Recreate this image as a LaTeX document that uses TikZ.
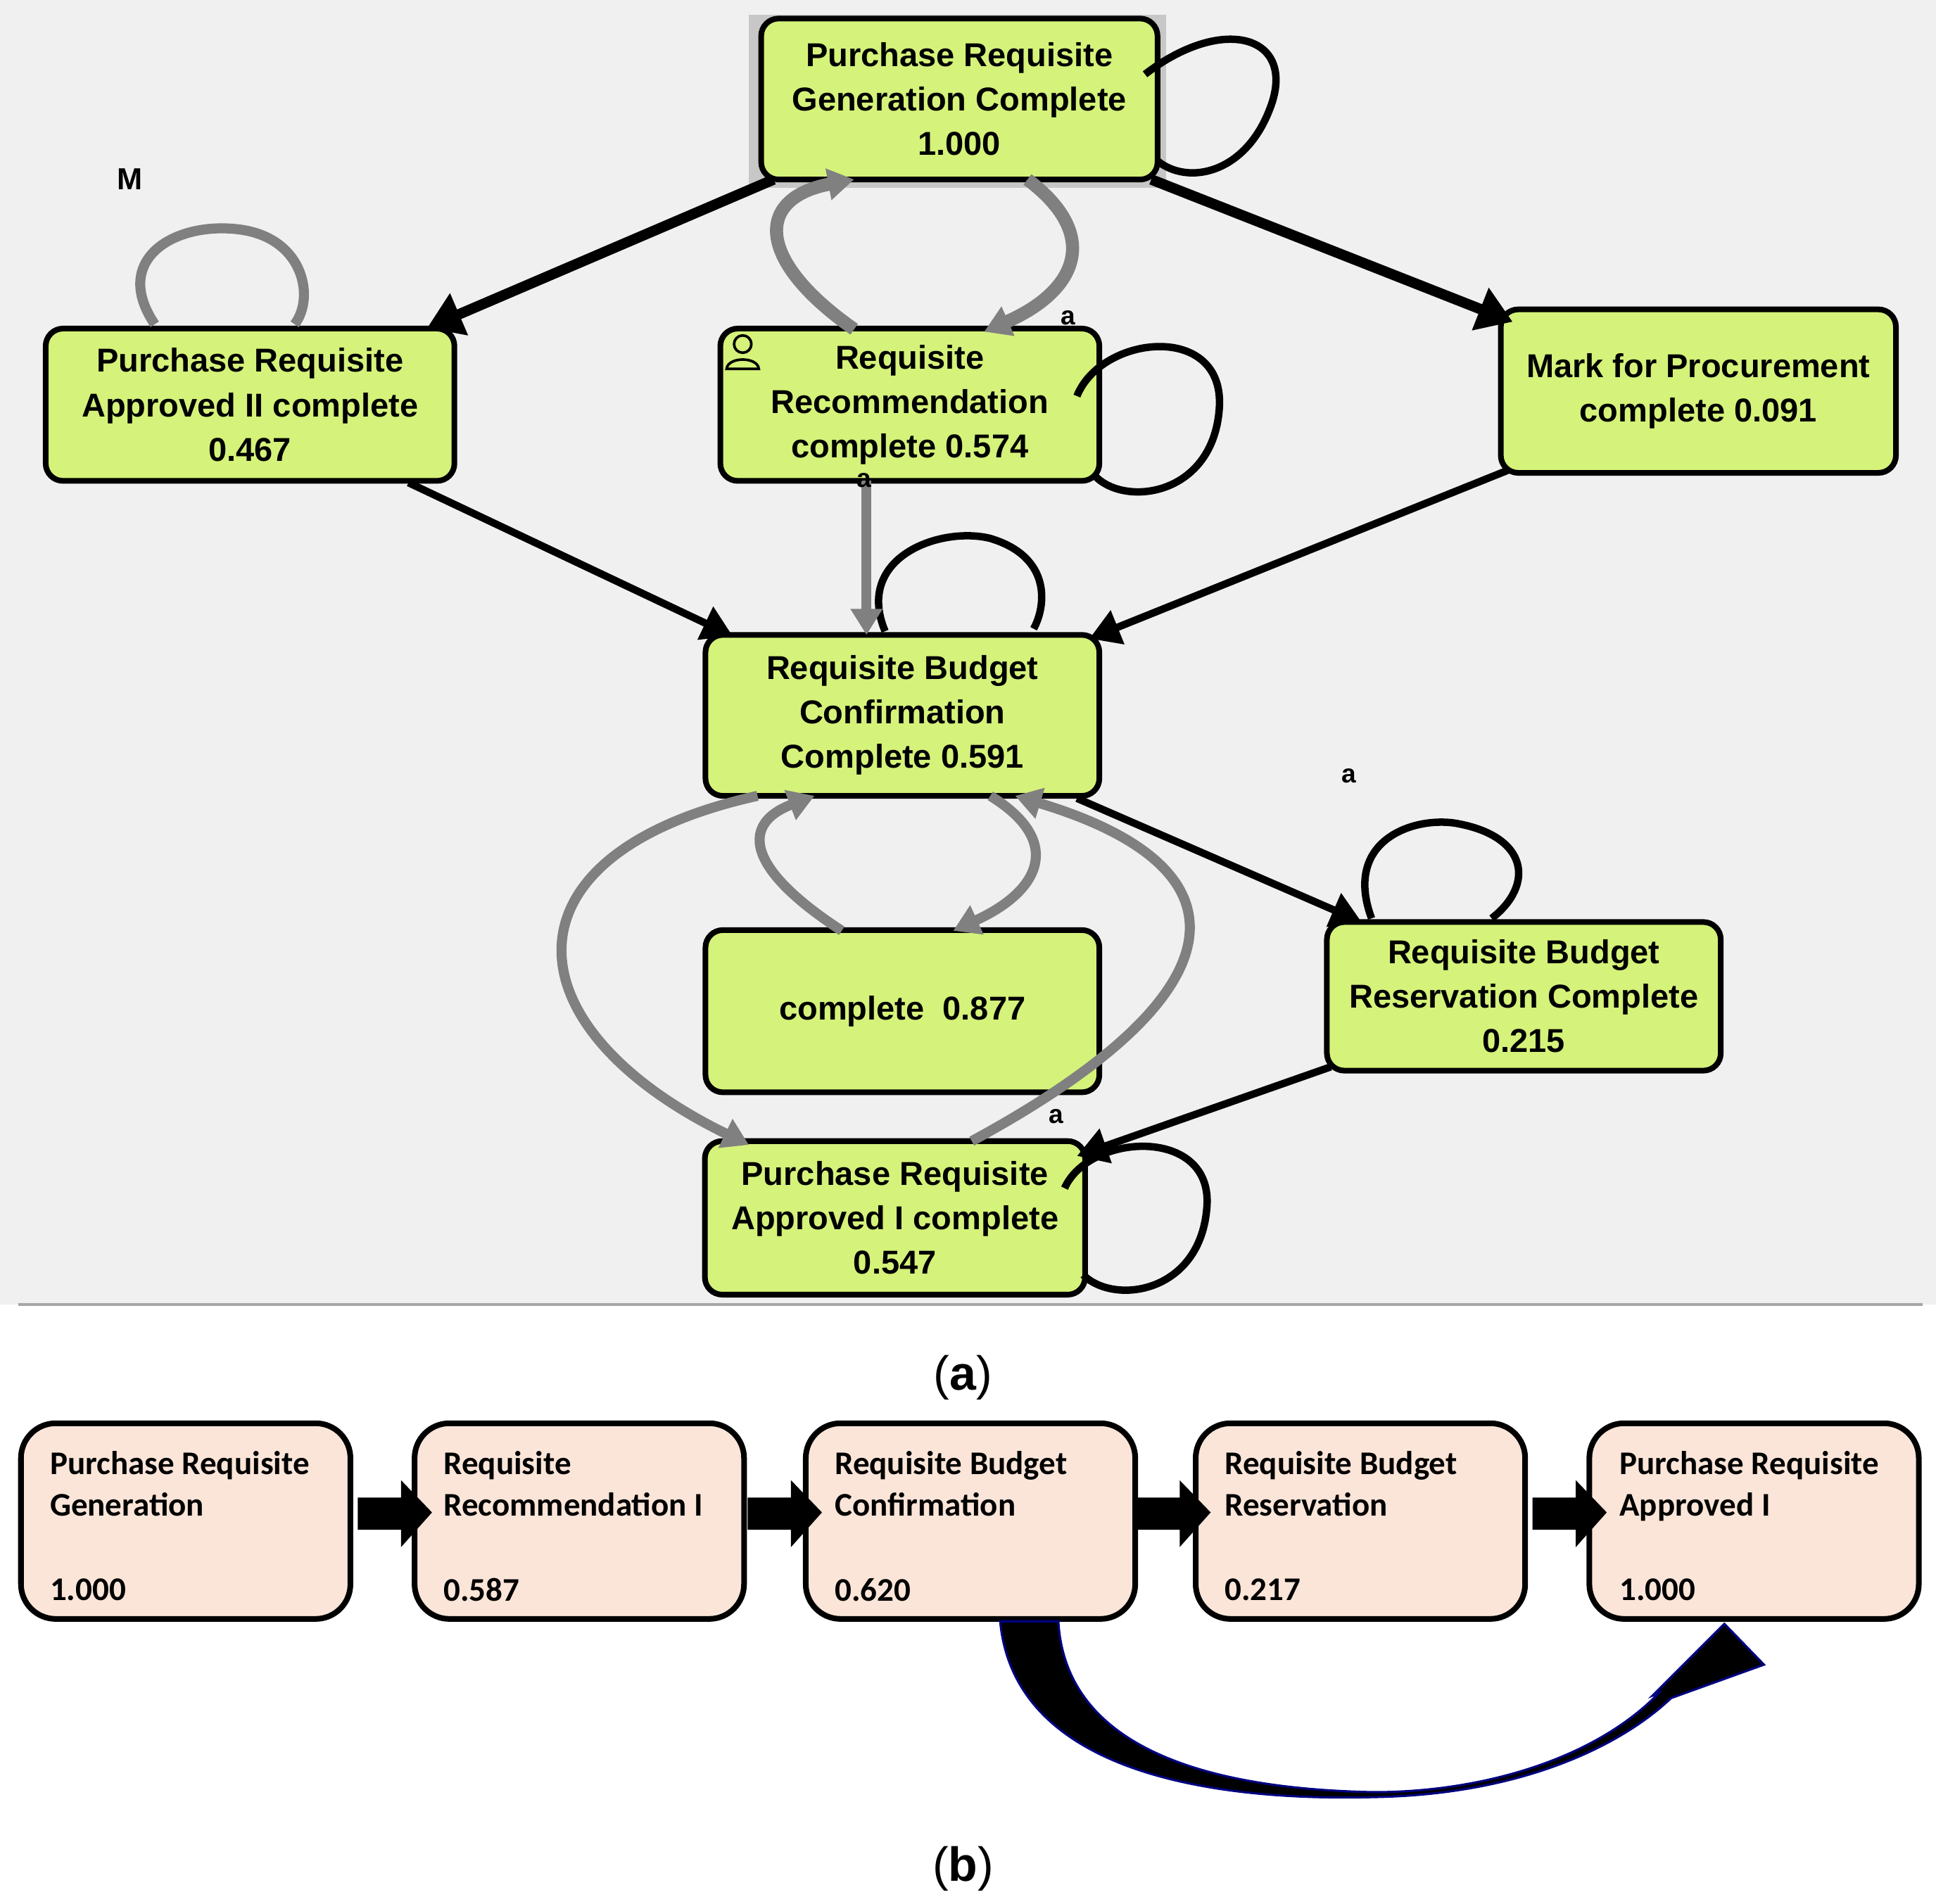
\documentclass[tikz,border=0pt]{standalone}
\usepackage{fontspec}
\setmainfont{Liberation Sans}
\newfontfamily\carl{Carlito}
\usetikzlibrary{arrows.meta}
\definecolor{gbox}{HTML}{D5F27A}
\definecolor{pbox}{HTML}{FAE5D8}
\definecolor{gline}{HTML}{808080}
\begin{document}
\begin{tikzpicture}[x=0.01cm,y=-0.01cm,
 box/.style={draw=black,line width=1.3pt,fill=gbox,rounded corners=4pt,align=center,font=\fontsize{7.6}{10.2}\selectfont\bfseries},
 pb/.style={draw=black,line width=1.3pt,fill=pbox,rounded corners=8pt,minimum width=2.66cm,minimum height=1.58cm},
 bt/.style={align=left,anchor=north west,font=\carl\fontsize{7.6}{9.6}\selectfont\bfseries},
 blk/.style={draw=black,line width=1.7pt,-{Triangle[length=7pt,width=8pt]}},
 blkw/.style={draw=black,line width=2.4pt,-{Triangle[length=8pt,width=10pt]}},
 gry/.style={draw=gline,line width=2.3pt,-{Triangle[length=6pt,width=7pt]}},
 lp/.style={draw=black,line width=1.7pt},
 lbl/.style={font=\fontsize{6}{7}\selectfont\bfseries}]
\useasboundingbox (0,0) rectangle (1564,1538);
\fill[white] (0,0) rectangle (1564,1538);
\fill[black!6] (0,0) rectangle (1564,1054);
\fill[black!22] (605,12) rectangle (942,152);
% nodes
\node[box,minimum width=3.2cm,minimum height=1.3cm] (prg) at (775,80) {Purchase Requisite\\Generation Complete\\1.000};
\node[box,minimum width=3.3cm,minimum height=1.23cm] (pra2) at (202,327) {Purchase Requisite\\Approved II complete\\0.467};
\node[box,minimum width=3.06cm,minimum height=1.23cm] (rr) at (735,327) {Requisite\\Recommendation\\complete 0.574};
\node[box,minimum width=3.19cm,minimum height=1.32cm] (mfp) at (1372,316) {Mark for Procurement\\complete 0.091};
\node[box,minimum width=3.18cm,minimum height=1.3cm] (rbc) at (729,578) {Requisite Budget\\Confirmation\\Complete 0.591};
\node[box,minimum width=3.18cm,minimum height=1.31cm] (c) at (729,817) {complete\ \ 0.877};
\node[box,minimum width=3.18cm,minimum height=1.2cm] (rbr) at (1231,805) {Requisite Budget\\Reservation Complete\\0.215};
\node[box,minimum width=3.07cm,minimum height=1.24cm] (pra1) at (723,984) {Purchase Requisite\\Approved I complete\\0.547};
% coordinates on borders
\coordinate (a1) at (625,145); \coordinate (a2) at (345,265);
\coordinate (b1) at (930,145); \coordinate (b2) at (1222,260);
\draw[blkw] (a1) -- (a2);
\draw[blkw] (b1) -- (b2);
\coordinate (g1) at (690,266); \coordinate (g2) at (690,145);
\draw[gry,line width=3pt] (g1) .. controls (610,210) and (610,160) .. (g2);
\coordinate (g3) at (830,145); \coordinate (g4) at (795,268);
\draw[gry,line width=3pt] (g3) .. controls (890,190) and (870,235) .. (g4);
% self loops
\coordinate (s1) at (925,60); \coordinate (s2) at (935,130);
\draw[lp] (s1) .. controls (990,10) and (1050,30) .. (1025,90) .. controls (1005,140) and (960,150) .. (s2);
\coordinate (s3) at (125,262); \coordinate (s4) at (238,262);
\draw[gline,line width=2.3pt] (s3) .. controls (90,210) and (140,180) .. (190,185) .. controls (245,190) and (255,240) .. (s4);
\coordinate (s5) at (870,320); \coordinate (s6) at (885,385);
\draw[lp] (s5) .. controls (890,270) and (990,260) .. (985,330) .. controls (980,400) and (910,410) .. (s6);
\coordinate (s7) at (715,510); \coordinate (s8) at (835,508);
\draw[lp] (s7) .. controls (690,450) and (760,425) .. (800,435) .. controls (850,450) and (845,490) .. (s8);
\coordinate (s9) at (1108,742); \coordinate (s10) at (1205,742);
\draw[lp] (s9) .. controls (1085,680) and (1140,660) .. (1175,665) .. controls (1235,675) and (1240,715) .. (s10);
\coordinate (s11) at (860,960); \coordinate (s12) at (875,1030);
\draw[lp] (s11) .. controls (880,915) and (980,910) .. (975,975) .. controls (970,1045) and (900,1055) .. (s12);
% straight edges
\draw[gry,line width=2.3pt] (700,388) -- (700,513);
\draw[blk] (330,390) -- (592,514);
\draw[blk] (1218,380) -- (880,516);
\draw[blk] (870,645) -- (1100,745);
\draw[blk] (1075,862) -- (870,934);
% rbc <-> c
\draw[gry] (680,752) .. controls (600,700) and (600,665) .. (658,643);
\draw[gry] (800,643) .. controls (860,680) and (840,720) .. (770,752);
\draw[gry] (612,643) .. controls (400,690) and (410,830) .. (605,925);
\draw[gry] (785,922) .. controls (1010,800) and (1010,700) .. (820,643);
% labels
\node[lbl,font=\fontsize{7}{8}\selectfont\bfseries] (m) at (105,145) {M};
\node[lbl] (la1) at (863,257) {a};
\node[lbl] (la2) at (1090,627) {a};
\node[lbl] (la3) at (853,902) {a};
\node[lbl] (la4) at (698,388) {a};
% person icon
\draw[black,line width=0.6pt,fill=gbox] (600,278) circle (7);
\draw[black,line width=0.6pt] (587,298) .. controls (588,288) and (612,288) .. (613,298) -- cycle;
\draw[gray!70,line width=0.8pt] (15,1054) -- (1553,1054);
\node[font=\fontsize{11}{12}\selectfont] (ca) at (778,1113) {(\textbf{a})};
% bottom
\node[pb] (p1) at (150,1229) {}; \node[pb] (p2) at (468,1229) {};
\node[pb] (p3) at (784,1229) {}; \node[pb] (p4) at (1099,1229) {};
\node[pb] (p5) at (1417,1229) {};
\node[bt] at (28,1160) {Purchase Requisite\\Generation};
\node[bt] at (28,1263) {1.000};
\node[bt] at (346,1160) {Requisite\\Recommendation I};
\node[bt] at (346,1263) {0.587};
\node[bt] at (662,1160) {Requisite Budget\\Confirmation};
\node[bt] at (662,1263) {0.620};
\node[bt] at (977,1160) {Requisite Budget\\Reservation};
\node[bt] at (977,1263) {0.217};
\node[bt] at (1296,1160) {Purchase Requisite\\Approved I};
\node[bt] at (1296,1263) {1.000};
\foreach \xa in {289,604,918,1238}{
 \fill[black] (\xa,1210) -- (\xa+35,1210) -- (\xa+35,1196) -- (\xa+60,1222) -- (\xa+35,1250) -- (\xa+35,1236) -- (\xa,1236) -- cycle;}
\fill[black,draw=blue!50!black,line width=0.5pt] (808,1310) .. controls (820,1440) and (1000,1455) .. (1110,1452) .. controls (1230,1450) and (1310,1410) .. (1350,1372) -- (1425,1345) -- (1393,1312) -- (1335,1370) -- (1340,1368) .. controls (1290,1420) and (1200,1448) .. (1110,1448) .. controls (950,1445) and (860,1400) .. (855,1310) -- cycle;
\node[font=\fontsize{11}{12}\selectfont] (cb) at (778,1510) {(\textbf{b})};
\end{tikzpicture}
\end{document}
